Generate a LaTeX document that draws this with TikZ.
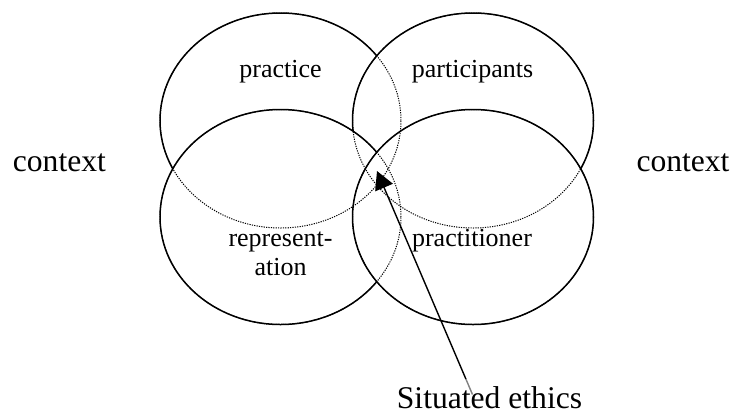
\documentclass[tikz,border=0pt]{standalone}
\usepackage{fontspec}
\setmainfont{Liberation Serif}
\usetikzlibrary{arrows.meta}
\begin{document}
\begin{tikzpicture}[x=1pt,y=-1pt,
  ring/.style={draw=black, line width=1.5pt, fill=white},
  hidden/.style={draw=black, line width=1pt, dash pattern=on 1.2pt off 1.2pt},
  inlabel/.style={font=\fontsize{26}{29}\selectfont, inner sep=0pt, anchor=base},
  outlabel/.style={font=\fontsize{31.6}{35}\selectfont, inner sep=0pt, anchor=base},
  pointer/.style={line width=1.4pt, -{Triangle[length=18pt,width=19pt]}}]
\useasboundingbox (0,0) rectangle (731,413);

% centres of the four overlapping ellipses
\coordinate (tl) at (280.5,120.5);
\coordinate (tr) at (473,120.5);
\coordinate (bl) at (280.5,217);
\coordinate (br) at (473,217);

% each later ellipse hides the outlines beneath it
\foreach \c in {tl,tr,bl,br}
  \path[ring] (\c) ellipse [x radius=120.5pt, y radius=107.5pt];

% hidden outlines shown as dotted lines
\foreach \c in {tl,tr,bl,br}
  \draw[hidden] (\c) ellipse [x radius=120.5pt, y radius=107.5pt];

% labels
\node[inlabel] (practice) at (280.5,77) {practice};
\node[inlabel] (participants) at (472.5,77) {participants};
\node[inlabel] (rep1) at (280.5,246.7) {represent-};
\node[inlabel] (rep2) at (280.5,275.7) {ation};
\node[inlabel] (practitioner) at (472,246.7) {practitioner};
\node[outlabel] (ctxl) at (59.4,171.7) {context};
\node[outlabel] (ctxr) at (683,171.7) {context};

% arrow to the central overlap
\coordinate (tail) at (472.5,394.5);
\coordinate (tip) at (377,171);
\draw[pointer] (tail) -- (tip);

\node[outlabel, fill=white, fill opacity=0.5, text opacity=1,
      text height=30pt, text depth=0pt]
  (ethics) at (489.5,408.5) {Situated ethics};
\end{tikzpicture}
\end{document}
